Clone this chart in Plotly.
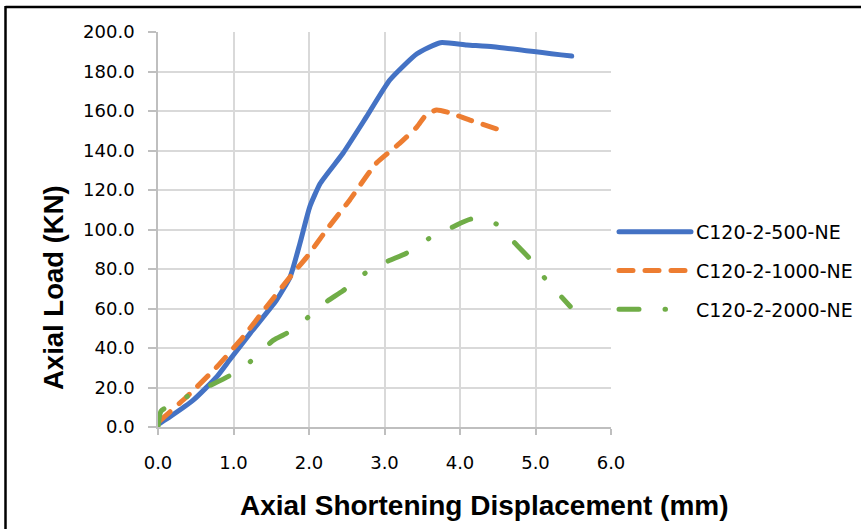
import plotly.graph_objects as go

# Load-displacement curves for the three C120-2 specimens
series_names = ["C120-2-500-NE", "C120-2-1000-NE", "C120-2-2000-NE"]

disp_500 = [0.03, 0.16, 0.47, 0.78, 0.95, 1.22, 1.57, 1.75, 1.88, 2.01, 2.15,
            2.45, 2.76, 3.07, 3.43, 3.74, 4.09, 4.44, 5.48]
load_500 = [2.0, 5.2, 13.7, 25.5, 34.0, 47.4, 64.3, 76.0, 93.0, 111.5, 123.4,
            138.6, 157.0, 175.7, 189.0, 194.6, 193.4, 192.5, 187.8]

disp_1000 = [0.02, 0.38, 0.78, 1.13, 1.44, 1.75, 1.97, 2.23, 2.54, 2.89, 3.20,
             3.43, 3.55, 3.69, 3.87, 4.13, 4.53]
load_1000 = [3.0, 15.3, 30.5, 45.7, 61.0, 76.0, 86.0, 99.7, 115.0, 133.5, 143.6,
             152.0, 158.0, 160.5, 159.0, 155.4, 150.4]

disp_2000 = [0.0, 0.04, 0.38, 0.69, 0.95, 1.22, 1.53, 1.70, 1.97, 2.23, 2.45,
             2.74, 3.03, 3.29, 3.59, 3.91, 4.15, 4.48, 4.73, 4.93, 5.13, 5.46]
load_2000 = [0.0, 8.0, 15.3, 21.0, 26.0, 33.0, 44.0, 47.4, 55.0, 63.4, 69.0,
             77.8, 83.7, 88.0, 95.5, 101.4, 105.3, 102.8, 93.0, 85.0, 75.0, 61.0]

x_ticks = [0.0, 1.0, 2.0, 3.0, 4.0, 5.0, 6.0]
y_ticks = [0, 20, 40, 60, 80, 100, 120, 140, 160, 180, 200]

x_title = "Axial Shortening Displacement (mm)"
y_title = "Axial Load (KN)"

colors = ["#4472C4", "#ED7D31", "#70AD47"]
dashes = ["solid", "14px,12px", "20px,26px,0.5px,26px"]

W, H = 861, 529
L, R, T, B = 158, 611, 32, 427  # plot area edges in px


def px_x(px):
    return (px - L) / (R - L)


def px_y(py):
    return (B - py) / (B - T)


fig = go.Figure()
for i, (xs, ys) in enumerate([(disp_500, load_500), (disp_1000, load_1000),
                              (disp_2000, load_2000)]):
    fig.add_trace(go.Scatter(
        x=xs, y=ys, mode="lines", name=series_names[i],
        legendgroup=series_names[i],
        line=dict(color=colors[i], width=5, dash=dashes[i],
                  shape="spline", smoothing=0.5),
        cliponaxis=False,
    ))

axis_common = dict(
    showgrid=True, gridcolor="#d9d9d9", gridwidth=1.5,
    showline=True, linecolor="#bfbfbf", linewidth=1.5,
    ticks="outside", tickcolor="#bfbfbf", tickwidth=1.5,
    zeroline=False,
    tickfont=dict(family="DejaVu Sans", size=18, color="#000000"),
    tickformat=".1f",
)

fig.update_layout(
    width=W, height=H,
    margin=dict(l=L, r=W - R, t=T, b=H - B, pad=0, autoexpand=False),
    paper_bgcolor="white", plot_bgcolor="white",
    xaxis=dict(range=[0, 6], tickvals=x_ticks, ticklen=6,
               ticklabelstandoff=13, **axis_common),
    yaxis=dict(range=[0, 200], tickvals=y_ticks, ticklen=8,
               ticklabelstandoff=10, **axis_common),
    legend=dict(
        x=px_x(614), xanchor="left",
        y=px_y(271), yanchor="middle",
        font=dict(family="DejaVu Sans", size=19, color="#000000"),
        itemwidth=72, tracegroupgap=11, traceorder="grouped",
        bgcolor="rgba(0,0,0,0)",
    ),
    annotations=[
        dict(text=x_title, xref="paper", yref="paper",
             x=px_x(484.5), y=px_y(505), xanchor="center", yanchor="middle",
             showarrow=False,
             font=dict(family="Liberation Sans", size=28, color="#000000",
                       weight="bold")),
        dict(text=y_title, xref="paper", yref="paper",
             x=px_x(53), y=px_y(288), xanchor="center", yanchor="middle",
             textangle=-90, showarrow=False,
             font=dict(family="Liberation Sans", size=27.5, color="#000000",
                       weight="bold")),
    ],
    shapes=[
        # frame around the figure (top and left edges)
        dict(type="line", xref="paper", yref="paper",
             x0=px_x(5.5), x1=px_x(W + 2), y0=px_y(7), y1=px_y(7),
             line=dict(color="#000000", width=2.5)),
        dict(type="line", xref="paper", yref="paper",
             x0=px_x(5.5), x1=px_x(5.5), y0=px_y(6), y1=px_y(H + 2),
             line=dict(color="#000000", width=2.5)),
    ],
)

round_caps = ("document.querySelectorAll('.js-line').forEach(function(p){"
              "p.style.strokeLinecap='round';p.style.strokeLinejoin='round';});")

fig.write_html("out.html", post_script=round_caps)
